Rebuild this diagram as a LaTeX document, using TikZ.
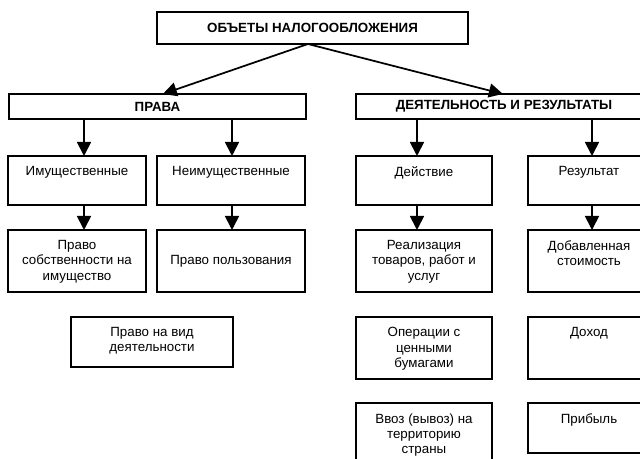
\documentclass[tikz,border=0pt]{standalone}
\usepackage{fontspec}
\setmainfont{Liberation Sans}
\usetikzlibrary{arrows.meta,calc}

\begin{document}
\begin{tikzpicture}[
    x=0.75pt, y=-0.75pt,
    every node/.style={font=\fontsize{10}{11.5}\selectfont},
    box/.style 2 args={draw, line width=1.4pt, rectangle, anchor=north west,
      outer sep=0pt, inner sep=0pt, minimum width=#1*0.75pt, minimum height=#2*0.75pt},
    head/.style={font=\fontsize{10}{11.5}\selectfont\bfseries},
    txt/.style={anchor=north, inner xsep=6pt, inner ysep=7.6pt, align=center},
    arr/.style={line width=1.3pt, -{Triangle[width=10.5pt,length=10.5pt]}}
  ]

    % Frame
    \useasboundingbox (0,0) rectangle (640,459);
    \clip (0,0) rectangle (640,459);

    %------------------ Top ------------------%
    \node[box={311}{32}, head] (top) at (157,12) {ОБЪЕТЫ НАЛОГООБЛОЖЕНИЯ};

    %------------------ Second level ------------------%
    \node[box={297}{25}, head] (prava) at (9,94) {ПРАВА};
    \node[box={296}{25}, head] (deyat) at (356,94) {ДЕЯТЕЛЬНОСТЬ И РЕЗУЛЬТАТЫ};

    % Arrows from the top box
    \draw[arr] ($(top.south)+(-3.4pt,0)$) -- ($(prava.north)+(4pt,0)$);
    \draw[arr] ($(top.south)+(-3.4pt,0)$) -- ($(deyat.north)+(-0.8pt,0)$);

    %------------------ Left branch: rights ------------------%
    \node[box={138}{49}, label={[txt]north:Имущественные}] (imu) at (8,156) {};
    \node[box={148}{49}, label={[txt]north:Неимущественные}] (neimu) at (157,156) {};
    \node[box={138}{62}, label={[txt]north:Право\\собственности на\\имущество}] (pravosob) at (8,230) {};
    \node[box={148}{62}] (pravopol) at (157,230) {Право пользования};
    \node[box={162}{50}, label={[txt]north:Право на вид\\деятельности}] (vid) at (71,317) {};

    %------------------ Right branch: activity and results ------------------%
    \node[box={136}{49}, label={[txt]north:Действие}] (deist) at (356,156) {};
    \node[box={122}{49}, label={[txt]north:Результат}] (rez) at (528,156) {};
    \node[box={136}{62}, label={[txt]north:Реализация\\товаров, работ и\\услуг}] (realiz) at (356,230) {};
    \node[box={122}{62}, label={[txt]north:Добавленная\\стоимость}] (dobav) at (528,230) {};
    \node[box={136}{62}, label={[txt]north:Операции с\\ценными\\бумагами}] (oper) at (356,317) {};
    \node[box={122}{62}, label={[txt]north:Доход}] (dohod) at (528,317) {};
    \node[box={136}{70}, label={[txt]north:Ввоз (вывоз) на\\территорию\\страны}] (vvoz) at (356,403) {};
    \node[box={122}{50}, label={[txt]north:Прибыль}] (prib) at (528,403) {};

    % Vertical arrows
    \foreach \up/\dn/\dx in {prava/imu/5.25pt, prava/neimu/0.75pt,
        deyat/deist/-5.25pt, deyat/rez/2.25pt,
        imu/pravosob/5.25pt, neimu/pravopol/0.75pt,
        deist/realiz/-5.25pt, rez/dobav/2.25pt}
      \draw[arr] ($(\dn.north |- \up.south)+(\dx,0)$) -- ($(\dn.north)+(\dx,0)$);

  \end{tikzpicture}
\end{document}
